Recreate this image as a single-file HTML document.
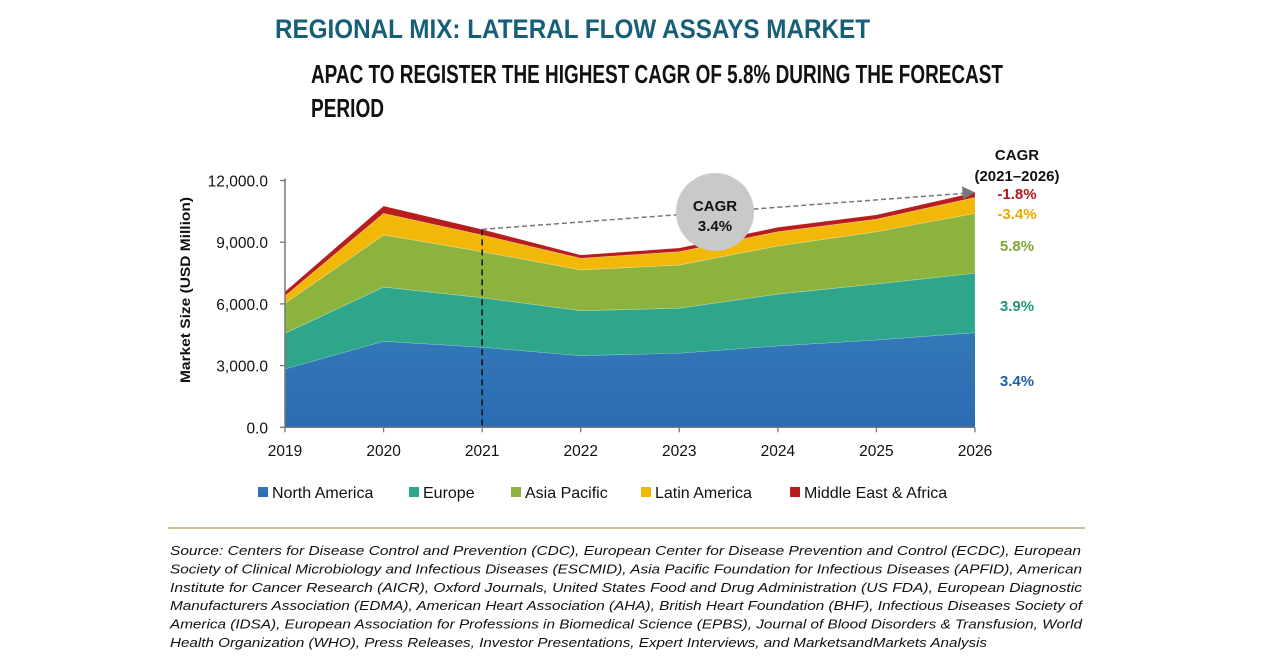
<!DOCTYPE html>
<html><head><meta charset="utf-8"><style>
body{margin:0;background:#fff;}
svg{display:block;font-family:"Liberation Sans",Arial,sans-serif;}
.cond{font-family:"Liberation Sans Narrow","Liberation Sans",sans-serif;font-weight:bold;}
</style></head><body>
<svg id="chart" width="1280" height="670" viewBox="0 0 1280 670">
<defs>
<linearGradient id="gNA" x1="0" y1="0" x2="0" y2="1"><stop offset="0" stop-color="#3378b8"/><stop offset="1" stop-color="#2a6cb0"/></linearGradient>
</defs>
<text class="cond" x="275" y="38" font-size="27" fill="#175f78" textLength="595" lengthAdjust="spacingAndGlyphs">REGIONAL MIX: LATERAL FLOW ASSAYS MARKET</text>
<text class="cond" x="311" y="83" font-size="26" fill="#111" textLength="692" lengthAdjust="spacingAndGlyphs">APAC TO REGISTER THE HIGHEST CAGR OF 5.8% DURING THE FORECAST</text>
<text class="cond" x="311" y="117" font-size="26" fill="#111" textLength="73" lengthAdjust="spacingAndGlyphs">PERIOD</text>
<g id="areas"></g>
<g id="axes"></g>
<text transform="translate(190,290) rotate(-90)" text-anchor="middle" font-size="14" font-weight="bold" fill="#111" textLength="186" lengthAdjust="spacingAndGlyphs">Market Size (USD Million)</text>
<g id="annot"></g>
<g id="legend"></g>
<line x1="168" y1="528" x2="1085" y2="528" stroke="#a89a4a" stroke-width="1.2"/>
<g id="source" font-style="italic" font-size="13" fill="#111"></g>
</svg>
<script>
const years = ["2019","2020","2021","2022","2023","2024","2025","2026"];
const seriesNames = ["North America","Europe","Asia Pacific","Latin America","Middle East & Africa"];
const northAmerica = [2835,4180,3890,3480,3600,3955,4245,4600];
const europe = [1735,2640,2410,2190,2190,2525,2725,2890];
const asiaPacific = [1460,2530,2240,1980,2100,2340,2540,2910];
const latinAmerica = [355,1050,810,570,650,690,610,780];
const middleEastAfrica = [210,360,275,160,180,215,210,240];
const cagrLabels = ["3.4%","3.9%","5.8%","-3.4%","-1.8%"];
const yTicks = [0,3000,6000,9000,12000];
const yTickLabels = ["0.0","3,000.0","6,000.0","9,000.0","12,000.0"];
const overallCagr = "3.4%";

const NS="http://www.w3.org/2000/svg";
const colors=["url(#gNA)","#2ea68b","#8db33f","#f2b807","#b81c1c"];
const textColors=["#1f5fa8","#22977d","#7fa533","#e8a800","#b01818"];
const X0=285,X1=975,Y0=427.3,YTOP=180.5,YMAX=12000;
const x=i=>X0+(X1-X0)*i/(years.length-1);
const y=v=>Y0-(Y0-YTOP)*v/YMAX;
function mk(tag,attrs,parent){const e=document.createElementNS(NS,tag);for(const k in attrs)e.setAttribute(k,attrs[k]);parent.appendChild(e);return e;}
const data=[northAmerica,europe,asiaPacific,latinAmerica,middleEastAfrica];
const areas=document.getElementById('areas');
let base=years.map(()=>0);
const tops=[];
data.forEach((s,si)=>{
  const top=base.map((b,i)=>b+s[i]);
  let d="M"+top.map((v,i)=>x(i)+","+y(v)).join(" L");
  for(let i=years.length-1;i>=0;i--)d+=" L"+x(i)+","+y(base[i]);
  d+=" Z";
  const p=mk('path',{d:d,fill:colors[si],stroke:si>0?"rgba(255,255,255,0.35)":"none","stroke-width":"0.6"},areas);
  
  
  tops.push(top);base=top;
});
const axes=document.getElementById('axes');
mk('line',{x1:X0,y1:YTOP-2,x2:X0,y2:Y0,stroke:"#777","stroke-width":"1.5"},axes);
mk('line',{x1:X0,y1:Y0,x2:X1,y2:Y0,stroke:"#777","stroke-width":"1.5"},axes);
yTicks.forEach((v,i)=>{
  mk('line',{x1:X0-5,y1:y(v),x2:X0,y2:y(v),stroke:"#777","stroke-width":"1.3"},axes);
  const t=mk('text',{x:268,y:y(v)+6,"text-anchor":"end","font-size":"15.5",fill:"#111"},axes);
  t.textContent=yTickLabels[i];
  
  
});
years.forEach((yr,i)=>{
  mk('line',{x1:x(i),y1:Y0,x2:x(i),y2:Y0+5,stroke:"#777","stroke-width":"1.3"},axes);
  const t=mk('text',{x:x(i),y:456,"text-anchor":"middle","font-size":"15.5",fill:"#111"},axes);
  t.textContent=yr;
  
  
});
const an=document.getElementById('annot');
const total=tops[4];
const i21=2,last=years.length-1;
mk('line',{x1:x(i21),y1:y(total[i21]),x2:x(i21),y2:Y0,stroke:"#111","stroke-width":"1.5","stroke-dasharray":"6,4"},an);
mk('line',{x1:x(i21),y1:y(total[i21]),x2:x(last)-12,y2:y(total[last])+1,stroke:"#777","stroke-width":"1.5","stroke-dasharray":"5,3"},an);
mk('polygon',{points:(x(last))+","+(y(total[last])+0)+" "+(x(last)-13)+","+(y(total[last])-6)+" "+(x(last)-12)+","+(y(total[last])+7),fill:"#777"},an);
const bub=mk('circle',{cx:715,cy:212,r:39,fill:"#c9c9c9"},an);


let t=mk('text',{x:715,y:211,"text-anchor":"middle","font-size":"15",fill:"#111",class:"cond"},an);t.textContent="CAGR";
t=mk('text',{x:715,y:231,"text-anchor":"middle","font-size":"15",fill:"#111",class:"cond"},an);t.textContent=overallCagr;
t=mk('text',{x:1017,y:160,"text-anchor":"middle","font-size":"15",fill:"#111",class:"cond"},an);t.textContent="CAGR";
t=mk('text',{x:1017,y:181,"text-anchor":"middle","font-size":"15",fill:"#111",class:"cond"},an);t.textContent="(2021–2026)";
const cagrY=[380,305,245,213,193];
cagrLabels.forEach((c,i)=>{
  const e=mk('text',{x:1017,y:cagrY[i]+6,"text-anchor":"middle","font-size":"15",fill:textColors[i],class:"cond"},an);
  e.textContent=c;
  
  
});
const lg=document.getElementById('legend');
const lx=[258,409,511,641,790];
seriesNames.forEach((n,i)=>{
  const g=mk('g',{},lg);
  
  
  mk('rect',{x:lx[i],y:487,width:10,height:10,fill:colors[i]},g);
  const e=mk('text',{x:lx[i]+14,y:498,"font-size":"16",fill:"#111"},g);e.textContent=n;
});
const src=["Source: Centers for Disease Control and Prevention (CDC), European Center for Disease Prevention and Control (ECDC), European",
"Society of Clinical Microbiology and Infectious Diseases (ESCMID), Asia Pacific Foundation for Infectious Diseases (APFID), American",
"Institute for Cancer Research (AICR), Oxford Journals, United States Food and Drug Administration (US FDA), European Diagnostic",
"Manufacturers Association (EDMA), American Heart Association (AHA), British Heart Foundation (BHF), Infectious Diseases Society of",
"America (IDSA), European Association for Professions in Biomedical Science (EPBS), Journal of Blood Disorders & Transfusion, World",
"Health Organization (WHO), Press Releases, Investor Presentations, Expert Interviews, and MarketsandMarkets Analysis"];
const srcW=[911,912,912,912,912,817];
const sg=document.getElementById('source');
src.forEach((s,i)=>{
  const e=mk('text',{x:170,y:555+i*18.4,textLength:srcW[i],lengthAdjust:"spacingAndGlyphs"},sg);
  e.textContent=s;
});
</script>
</body></html>
